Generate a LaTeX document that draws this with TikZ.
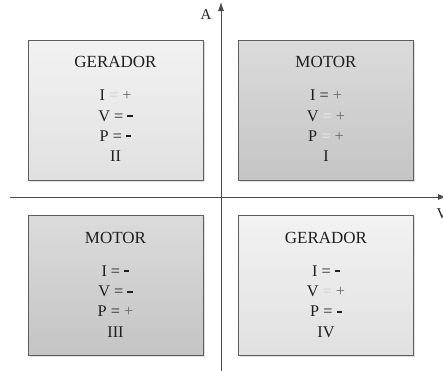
\documentclass[tikz,border=0pt]{standalone}
\usepackage{fontspec}
\setmainfont{Liberation Serif}
\usetikzlibrary{shadows,arrows.meta}
\definecolor{boxline}{HTML}{5E5E5E}
\definecolor{axisgray}{HTML}{4A4A4A}
\definecolor{plusgray}{HTML}{6A6A6A}
\definecolor{eqonlight}{HTML}{CFCFCF}
\definecolor{eqondark}{HTML}{EBEBEB}
% signs used in the tables
\newcommand\mn{\rule[0.22em]{0.32em}{0.14em}}
\newcommand\pl{\textcolor{plusgray}{+}}
\newcommand\eqa{\textcolor{eqonlight}{=}}
\newcommand\eqb{\textcolor{eqondark}{=}}
\begin{document}
\begin{tikzpicture}[x=1pt,y=-1pt,
  quad/.style={draw=boxline, line width=0.9pt, minimum width=175pt,
    minimum height=140pt, inner sep=0pt,
    drop shadow={shadow xshift=1.5pt, shadow yshift=-1.5pt, opacity=0.25}},
  lightquad/.style={quad, top color=white!95!black, bottom color=white!88!black},
  darkquad/.style={quad, top color=white!86!black, bottom color=white!77!black},
  title/.style={anchor=base, inner sep=0pt, font=\fontsize{17}{20}\selectfont, text=black!88},
  entry/.style={anchor=base, inner sep=0pt, font=\fontsize{16.3}{18}\selectfont, text=black!88},
  axis/.style={draw=axisgray, line width=0.8pt},
  axlabel/.style={inner sep=0pt, font=\fontsize{15}{18}\selectfont, text=black!88}]
\useasboundingbox (0,0) rectangle (443,370);
\clip (0,0) rectangle (443,370);

% axes
\coordinate (ybot) at (221,372);
\coordinate (ytop) at (221,2);
\coordinate (xleft) at (10,197);
\coordinate (xright) at (446,197);
\draw[axis, -{Latex[length=9pt,width=6pt]}] (ybot) -- (ytop);
\draw[axis, -{Latex[length=8pt,width=6pt]}] (xleft) -- (xright);
\node[axlabel] (alab) at (206,15) {A};
\node[axlabel] (vlab) at (442,214) {V};

% quadrant II
\node[lightquad] (q2) at (115.5,110) {};
\node[title] (q2t) at ([yshift=-28pt]q2.north) {GERADOR};
\node[entry] (q2a) at ([yshift=-60.5pt]q2.north) {I \eqa{} \pl};
\node[entry] (q2b) at ([yshift=-81.5pt]q2.north) {V = \mn};
\node[entry] (q2c) at ([yshift=-101.5pt]q2.north) {P = \mn};
\node[entry] (q2d) at ([yshift=-122pt]q2.north) {II};

% quadrant I
\node[darkquad] (q1) at (326,110) {};
\node[title] (q1t) at ([yshift=-28pt]q1.north) {MOTOR};
\node[entry] (q1a) at ([yshift=-60.5pt]q1.north) {I = \pl};
\node[entry] (q1b) at ([yshift=-81.5pt]q1.north) {V \eqb{} \pl};
\node[entry] (q1c) at ([yshift=-101.5pt]q1.north) {P \eqb{} \pl};
\node[entry] (q1d) at ([yshift=-122pt]q1.north) {I};

% quadrant III
\node[darkquad] (q3) at (115.5,285) {};
\node[title] (q3t) at ([yshift=-29pt]q3.north) {MOTOR};
\node[entry] (q3a) at ([yshift=-61.5pt]q3.north) {I = \mn};
\node[entry] (q3b) at ([yshift=-82pt]q3.north) {V = \mn};
\node[entry] (q3c) at ([yshift=-102pt]q3.north) {P = \pl};
\node[entry] (q3d) at ([yshift=-123pt]q3.north) {III};

% quadrant IV
\node[lightquad] (q4) at (326,285) {};
\node[title] (q4t) at ([yshift=-29pt]q4.north) {GERADOR};
\node[entry] (q4a) at ([yshift=-61.5pt]q4.north) {I = \mn};
\node[entry] (q4b) at ([yshift=-82pt]q4.north) {V \eqa{} \pl};
\node[entry] (q4c) at ([yshift=-102pt]q4.north) {P = \mn};
\node[entry] (q4d) at ([yshift=-123pt]q4.north) {IV};
\end{tikzpicture}
\end{document}
